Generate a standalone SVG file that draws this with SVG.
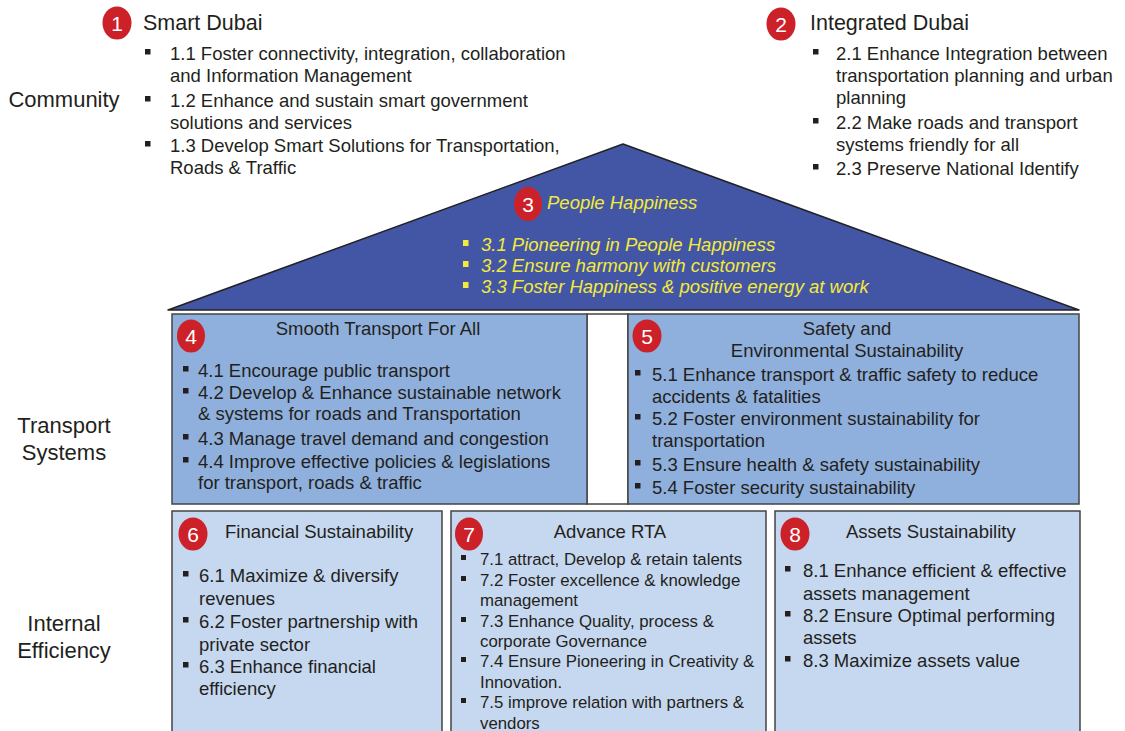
<svg xmlns="http://www.w3.org/2000/svg" width="1125" height="731" viewBox="0 0 1125 731">
<style>
text{font-family:"Liberation Sans",Arial,sans-serif;fill:#231f20}
.lbl{font-size:22px;text-anchor:middle}
.hd{font-size:21.5px}
.b{font-size:18.5px}
.s{font-size:16.8px}
.t{font-size:18.5px;text-anchor:middle}
.y{font-size:18.5px;font-style:italic;fill:#f4ea3a}
.num{font-size:21px;fill:#fff;text-anchor:middle}
.dot{fill:#231f20}
.ydot{fill:#f4ea3a}
.badge{fill:#cc2128}
.r2{fill:#8fb0dc;stroke:#444;stroke-width:1.5}
.r3{fill:#c6d8ef;stroke:#444;stroke-width:1.5}
</style>
<rect width="1125" height="731" fill="#fff"/>

<g id="labels">
<text class="lbl" x="64" y="107">Community</text>
<text class="lbl" x="64" y="433">Transport</text>
<text class="lbl" x="64" y="460">Systems</text>
<text class="lbl" x="64" y="631">Internal</text>
<text class="lbl" x="64" y="658">Efficiency</text>
</g>

<g id="node1">
<ellipse class="badge" cx="117" cy="23" rx="14.5" ry="16.5"/>
<text class="num" x="117" y="30.5">1</text>
<text class="hd" x="143" y="30">Smart Dubai</text>
<rect class="dot" x="145" y="49" width="5.5" height="5.5"/>
<text class="b" x="170" y="60">1.1 Foster connectivity, integration, collaboration</text>
<text class="b" x="170" y="82">and Information Management</text>
<rect class="dot" x="145" y="96" width="5.5" height="5.5"/>
<text class="b" x="170" y="107">1.2 Enhance and sustain smart government</text>
<text class="b" x="170" y="129">solutions and services</text>
<rect class="dot" x="145" y="141" width="5.5" height="5.5"/>
<text class="b" x="170" y="152">1.3 Develop Smart Solutions for Transportation,</text>
<text class="b" x="170" y="174">Roads &amp; Traffic</text>
</g>

<g id="node2">
<ellipse class="badge" cx="781" cy="24" rx="14.5" ry="16.5"/>
<text class="num" x="781" y="31.5">2</text>
<text class="hd" x="810" y="30">Integrated Dubai</text>
<rect class="dot" x="813" y="49" width="5.5" height="5.5"/>
<text class="b" x="836" y="60">2.1 Enhance Integration between</text>
<text class="b" x="836" y="82">transportation planning and urban</text>
<text class="b" x="836" y="104">planning</text>
<rect class="dot" x="813" y="118" width="5.5" height="5.5"/>
<text class="b" x="836" y="129">2.2 Make roads and transport</text>
<text class="b" x="836" y="151">systems friendly for all</text>
<rect class="dot" x="813" y="164" width="5.5" height="5.5"/>
<text class="b" x="836" y="175">2.3 Preserve National Identify</text>
</g>

<g id="node3">
<polygon points="168,310 623,144 1079,310" fill="#4356a5" stroke="#222" stroke-width="1.5" stroke-linejoin="round"/>
<ellipse class="badge" cx="528" cy="204" rx="14" ry="17"/>
<text class="num" x="528" y="211.5">3</text>
<text class="y" x="547" y="209">People Happiness</text>
<rect class="ydot" x="463" y="240" width="5.5" height="6"/>
<text class="y" x="481" y="251">3.1 Pioneering in People Happiness</text>
<rect class="ydot" x="463" y="261" width="5.5" height="6"/>
<text class="y" x="481" y="272">3.2 Ensure harmony with customers</text>
<rect class="ydot" x="463" y="282" width="5.5" height="6"/>
<text class="y" x="481" y="293">3.3 Foster Happiness &amp; positive energy at work</text>
</g>

<g id="gap2">
<rect x="587" y="314" width="41" height="190" fill="#fff" stroke="#444" stroke-width="1.5"/>
</g>

<g id="node4">
<rect class="r2" x="172" y="314" width="415" height="190"/>
<ellipse class="badge" cx="191" cy="336" rx="14" ry="16.5"/>
<text class="num" x="191" y="343.5">4</text>
<text class="t" x="378" y="335">Smooth Transport For All</text>
<rect class="dot" x="183" y="366" width="5.5" height="5.5"/>
<text class="b" x="198" y="377">4.1 Encourage public transport</text>
<rect class="dot" x="183" y="388" width="5.5" height="5.5"/>
<text class="b" x="198" y="399">4.2 Develop &amp; Enhance sustainable network</text>
<text class="b" x="198" y="420">&amp; systems for roads and Transportation</text>
<rect class="dot" x="183" y="434" width="5.5" height="5.5"/>
<text class="b" x="198" y="445">4.3 Manage travel demand and congestion</text>
<rect class="dot" x="183" y="457" width="5.5" height="5.5"/>
<text class="b" x="198" y="468">4.4 Improve effective policies &amp; legislations</text>
<text class="b" x="198" y="489">for transport, roads &amp; traffic</text>
</g>

<g id="node5">
<rect class="r2" x="628" y="314" width="451" height="190"/>
<ellipse class="badge" cx="647" cy="336" rx="14.5" ry="16.5"/>
<text class="num" x="647" y="343.5">5</text>
<text class="t" x="847" y="335">Safety and</text>
<text class="t" x="847" y="357">Environmental Sustainability</text>
<rect class="dot" x="635" y="370" width="5.5" height="5.5"/>
<text class="b" x="652" y="381">5.1 Enhance transport &amp; traffic safety to reduce</text>
<text class="b" x="652" y="403">accidents &amp; fatalities</text>
<rect class="dot" x="635" y="414" width="5.5" height="5.5"/>
<text class="b" x="652" y="425">5.2 Foster environment sustainability for</text>
<text class="b" x="652" y="447">transportation</text>
<rect class="dot" x="635" y="460" width="5.5" height="5.5"/>
<text class="b" x="652" y="471">5.3 Ensure health &amp; safety sustainability</text>
<rect class="dot" x="635" y="483" width="5.5" height="5.5"/>
<text class="b" x="652" y="494">5.4 Foster security sustainability</text>
</g>

<g id="node6">
<rect class="r3" x="172" y="511" width="270" height="230"/>
<ellipse class="badge" cx="193" cy="534" rx="14.5" ry="16.5"/>
<text class="num" x="193" y="541.5">6</text>
<text class="b" x="225" y="538">Financial Sustainability</text>
<rect class="dot" x="183" y="571" width="5.5" height="5.5"/>
<text class="b" x="199" y="582">6.1 Maximize &amp; diversify</text>
<text class="b" x="199" y="605">revenues</text>
<rect class="dot" x="183" y="617" width="5.5" height="5.5"/>
<text class="b" x="199" y="628">6.2 Foster partnership with</text>
<text class="b" x="199" y="651">private sector</text>
<rect class="dot" x="183" y="662" width="5.5" height="5.5"/>
<text class="b" x="199" y="673">6.3 Enhance financial</text>
<text class="b" x="199" y="695">efficiency</text>
</g>

<g id="node7">
<rect class="r3" x="451" y="511" width="315" height="230"/>
<ellipse class="badge" cx="469" cy="534" rx="14" ry="16.5"/>
<text class="num" x="469" y="541.5">7</text>
<text class="t" x="610" y="538">Advance RTA</text>
<rect class="dot" x="461" y="555" width="5" height="5"/>
<text class="s" x="480" y="565">7.1 attract, Develop &amp; retain talents</text>
<rect class="dot" x="461" y="576" width="5" height="5"/>
<text class="s" x="480" y="586">7.2 Foster excellence &amp; knowledge</text>
<text class="s" x="480" y="606">management</text>
<rect class="dot" x="461" y="617" width="5" height="5"/>
<text class="s" x="480" y="627">7.3 Enhance Quality, process &amp;</text>
<text class="s" x="480" y="647">corporate Governance</text>
<rect class="dot" x="461" y="657" width="5" height="5"/>
<text class="s" x="480" y="667">7.4 Ensure Pioneering in Creativity &amp;</text>
<text class="s" x="480" y="688">Innovation.</text>
<rect class="dot" x="461" y="698" width="5" height="5"/>
<text class="s" x="480" y="708">7.5 improve relation with partners &amp;</text>
<text class="s" x="480" y="729">vendors</text>
</g>

<g id="node8">
<rect class="r3" x="775" y="511" width="305" height="230"/>
<ellipse class="badge" cx="795" cy="534" rx="14.5" ry="16.5"/>
<text class="num" x="795" y="541.5">8</text>
<text class="b" x="846" y="538">Assets Sustainability</text>
<rect class="dot" x="785" y="566" width="5.5" height="5.5"/>
<text class="b" x="803" y="577">8.1 Enhance efficient &amp; effective</text>
<text class="b" x="803" y="600">assets management</text>
<rect class="dot" x="785" y="611" width="5.5" height="5.5"/>
<text class="b" x="803" y="622">8.2 Ensure Optimal performing</text>
<text class="b" x="803" y="644">assets</text>
<rect class="dot" x="785" y="656" width="5.5" height="5.5"/>
<text class="b" x="803" y="667">8.3 Maximize assets value</text>
</g>

<g id="connectors"></g>
</svg>
